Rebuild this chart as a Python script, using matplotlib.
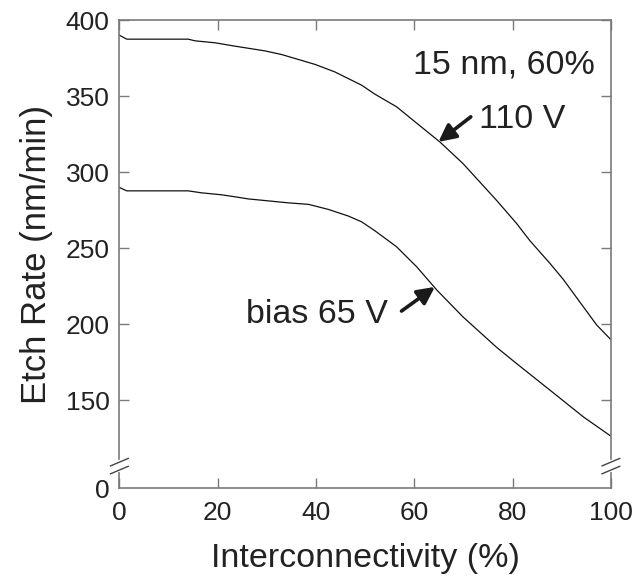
"""
Etch rate vs interconnectivity, two bias voltages, broken y axis.
"""
import matplotlib
matplotlib.use('Agg')
import matplotlib.pyplot as plt

# ---------- Data ----------
x_110 = [0, 1.5, 14, 15.4, 19.5, 23.5, 29.6, 33, 39.8, 43.8, 49.3, 52, 56.4,
         61.8, 65.2, 69.9, 76.7, 80.8, 83.5, 87.6, 90.3, 94.4, 97.1, 100]
y_110 = [390.1, 387.5, 387.5, 386.4, 385.1, 382.9, 379.8, 377.4, 370.9, 366.0,
         357.2, 351.3, 343.0, 328.8, 319.9, 305.7, 281.6, 266.3, 255.0, 240.0,
         229.5, 211.4, 199.5, 189.8]

x_65 = [0, 1.5, 14, 16.7, 20.8, 23.5, 26.2, 30.3, 34.4, 38.5, 42.5, 46.6, 49.3,
        52, 56.4, 60.5, 64.6, 69.9, 76.7, 80.8, 87.6, 94.4, 100]
y_65 = [289.9, 287.7, 287.7, 286.4, 285.1, 283.8, 282.4, 281.1, 279.8, 278.8,
        275.5, 271.1, 267.3, 261.4, 250.9, 237.7, 222.4, 204.8, 184.9, 174.1,
        156.6, 139.0, 126.3]

x_ticks = [0, 20, 40, 60, 80, 100]
y_ticks = [150, 200, 250, 300, 350, 400]
Y_ZERO = 91.9          # where the "0" sits below the axis break
Y_BREAK = (104.0, 109.2)

plt.rcParams['font.family'] = ['Liberation Sans', 'DejaVu Sans']

TXT = '#222222'
fig = plt.figure(figsize=(6.35, 5.76), dpi=100)
ax = fig.add_axes([0.188, 0.152, 0.774, 0.813])

ax.plot(x_110, y_110, color='#111111', lw=0.9)
ax.plot(x_65, y_65, color='#111111', lw=0.9)

ax.set_xlim(0, 100)
ax.set_ylim(Y_ZERO, 400)
ax.set_xticks(x_ticks)
ax.set_yticks([Y_ZERO] + y_ticks)
ax.set_yticklabels(['0'] + [str(v) for v in y_ticks])

GREY = '#7a7a7a'
for sp in ax.spines.values():
    sp.set_color(GREY)
    sp.set_linewidth(1.2)
ax.tick_params(direction='in', length=7, width=1, color=GREY,
               top=True, right=True, labelsize=19, labelcolor=TXT, pad=7)
ax.tick_params(axis='x', pad=9)
# no visible tick for the "0" under the break
ax.yaxis.get_major_ticks()[0].tick1line.set_visible(False)
ax.yaxis.get_major_ticks()[0].tick2line.set_visible(False)

ax.set_xlabel('Interconnectivity (%)', fontsize=24.5, color=TXT, labelpad=13)
ax.set_ylabel('Etch Rate (nm/min)', fontsize=25, color=TXT, labelpad=9)

# axis break marks on both vertical spines
span = 400 - Y_ZERO
f1 = (Y_BREAK[0] - Y_ZERO) / span
f2 = (Y_BREAK[1] - Y_ZERO) / span
for xs in (0, 1):
    ax.plot([xs, xs], [f1, f2], transform=ax.transAxes, color='white',
            lw=3, clip_on=False, zorder=5)
    for f in (f1, f2):
        ax.plot([xs - 0.018, xs + 0.018], [f - 0.008, f + 0.008],
                transform=ax.transAxes, color='#444444', lw=1,
                clip_on=False, zorder=6)

# annotations
ax.text(96.8, 365.1, '15 nm, 60%', fontsize=24.5, color=TXT,
        ha='right', va='baseline')
arrow_kw = dict(arrowstyle='-|>', lw=2.6, color='#1a1a1a', mutation_scale=26,
                shrinkA=0, shrinkB=0)
ax.annotate('', xy=(64.9, 319.9), xytext=(71.5, 336.4), arrowprops=arrow_kw)
ax.text(73.1, 328.9, '110 V', fontsize=24.5, color=TXT,
        ha='left', va='baseline')
ax.annotate('', xy=(64.2, 224.5), xytext=(57.4, 208.6), arrowprops=arrow_kw)
ax.text(54.6, 200.7, 'bias 65 V', fontsize=24.5, color=TXT,
        ha='right', va='baseline')

fig.savefig('out.png', dpi=100, facecolor='white')
